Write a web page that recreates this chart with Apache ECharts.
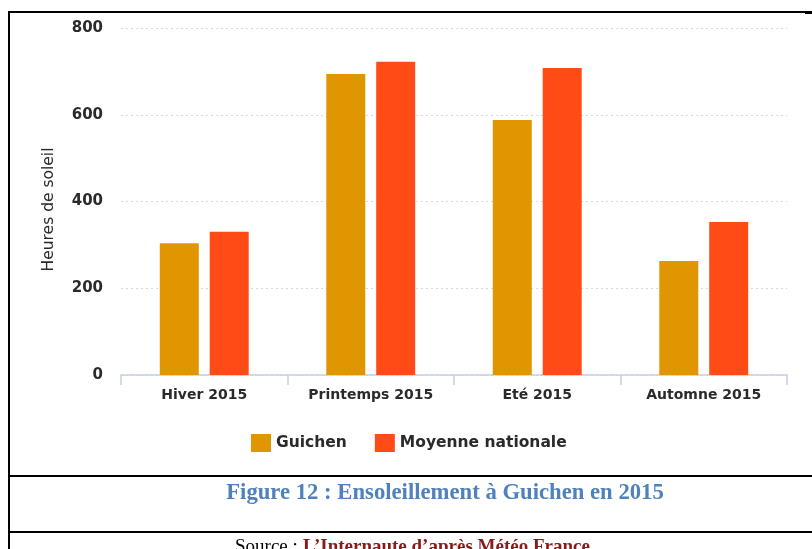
<!DOCTYPE html>
<html>
<head>
<meta charset="utf-8">
<script src="https://cdn.jsdelivr.net/npm/echarts@6/dist/echarts.min.js"></script>
<style>
  html, body { margin: 0; padding: 0; background: #fff; }
  #chart { width: 812px; height: 549px; }
</style>
</head>
<body>
<div id="chart"></div>
<script>
const categories = ["Hiver 2015", "Printemps 2015", "Eté 2015", "Automne 2015"];
const guichen = [304, 694, 588, 263];
const moyenne = [330, 722, 708, 353];
const yTicks = [0, 200, 400, 600, 800];

const chart = echarts.init(document.getElementById("chart"));

const option = {
  animation: false,
  textStyle: { fontFamily: "DejaVu Sans" },
  grid: { left: 121, right: 25, top: 28, bottom: 174 },
  legend: {
    data: ["Guichen", "Moyenne nationale"],
    top: 429,
    left: 246,
    itemWidth: 20,
    itemHeight: 18,
    itemGap: 28,
    icon: "rect",
    textStyle: { fontSize: 15.5, fontWeight: "bold", color: "#2a2a2a", fontFamily: "DejaVu Sans" },
  },
  xAxis: {
    type: "category",
    data: categories,
    axisLine: { lineStyle: { color: "#c3cfe0", width: 1.5 } },
    axisTick: { show: true, length: 10, lineStyle: { color: "#c3cfe0", width: 1.5 } },
    axisLabel: { margin: 13, fontSize: 14, color: "#2a2a2a", fontWeight: "bold" },
  },
  yAxis: {
    type: "value",
    min: yTicks[0],
    max: yTicks[yTicks.length - 1],
    interval: 200,
    name: "Heures de soleil",
    nameLocation: "middle",
    nameGap: 64,
    nameTextStyle: { fontSize: 15.5, color: "#2a2a2a", padding: [0, 0, 0, -16] },
    axisLine: { show: false },
    axisTick: { show: false },
    axisLabel: { margin: 18, fontSize: 15, fontWeight: "bold", color: "#2a2a2a" },
    splitLine: { lineStyle: { type: [2, 3], color: "#d8d8d8" } },
  },
  series: [
    {
      name: "Guichen",
      type: "bar",
      data: guichen,
      barWidth: 39,
      barGap: "28%",
      itemStyle: { color: "#e09600" },
    },
    {
      name: "Moyenne nationale",
      type: "bar",
      data: moyenne,
      barWidth: 39,
      itemStyle: { color: "#ff4c17" },
    },
  ],
  graphic: [
    // page frame lines
    { type: "line", shape: { x1: 9, y1: 12, x2: 812, y2: 12 }, style: { stroke: "#000", lineWidth: 2 } },
    { type: "rect", shape: { x: 805, y: 11, width: 7, height: 3 }, style: { fill: "#000" } },
    { type: "line", shape: { x1: 9, y1: 11, x2: 9, y2: 549 }, style: { stroke: "#000", lineWidth: 2 } },
    { type: "line", shape: { x1: 9, y1: 476, x2: 812, y2: 476 }, style: { stroke: "#000", lineWidth: 2 } },
    { type: "line", shape: { x1: 9, y1: 532, x2: 812, y2: 532 }, style: { stroke: "#000", lineWidth: 2 } },
    {
      type: "text",
      x: 445,
      y: 493,
      style: {
        text: "Figure 12 : Ensoleillement à Guichen en 2015",
        fill: "#4f81bd",
        font: "bold 22.7px 'Liberation Serif'",
        textAlign: "center",
        textVerticalAlign: "middle",
      },
    },
    {
      type: "text",
      x: 235,
      y: 547,
      style: {
        text: "Source : ",
        fill: "#000",
        font: "19px 'Liberation Serif'",
        textAlign: "left",
        textVerticalAlign: "middle",
      },
    },
    {
      type: "text",
      x: 303,
      y: 547,
      style: {
        text: "L’Internaute d’après Météo France",
        fill: "#8b1a1a",
        font: "bold 19px 'Liberation Serif'",
        textAlign: "left",
        textVerticalAlign: "middle",
      },
    },
  ],
};

chart.setOption(option);
</script>
</body>
</html>
